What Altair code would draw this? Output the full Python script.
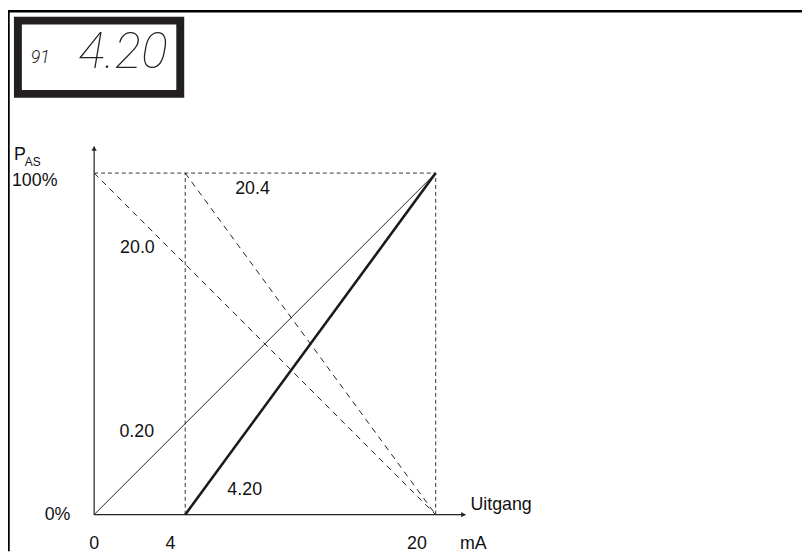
import altair as alt
import pandas as pd

# ---- data ----
seg_x1 = [0, 4, 0, 4, 4, 20, 0]
seg_y1 = [0, 0, 100, 100, 0, 0, 100]
seg_x2 = [20, 20, 20, 20, 4, 20, 20]
seg_y2 = [100, 100, 0, 0, 100, 100, 100]
seg_kind = ["thin", "thick", "dash", "dash", "dot", "dot", "dot"]

curve_labels = ["20.4", "20.0", "0.20", "4.20"]
curve_label_x = [8.3, 1.9, 1.87, 7.8]
curve_label_y = [95.4, 78.0, 24.3, 7.2]

tick_labels = ["0", "4", "20"]
tick_values = [0, 4, 20]

x_axis_end = 21.9
y_axis_end = 107.8

display_small = "91"
display_big = "4.20"

FONT = "Liberation Sans"
FS = 18

segs = pd.DataFrame({"x": seg_x1, "y": seg_y1, "x2": seg_x2, "y2": seg_y2, "kind": seg_kind})
labels = pd.DataFrame({"t": curve_labels, "x": curve_label_x, "y": curve_label_y})

xs = alt.Scale(domain=[0, 4, 20], range=[87, 179, 432], nice=False, zero=False)
ys = alt.Scale(domain=[0, 100], range=[509, 164], nice=False, zero=False)
X = lambda f: alt.X(f, type="quantitative", scale=xs, axis=None)
Y = lambda f: alt.Y(f, type="quantitative", scale=ys, axis=None)

base = alt.Chart(segs)

def seg_layer(kind, **kw):
    return base.transform_filter(alt.datum.kind == kind).mark_rule(**kw).encode(
        x=X("x"), y=Y("y"), x2="x2", y2="y2")

layers = [
    seg_layer("dot", stroke="#333", strokeWidth=1, strokeDash=[4, 3]),
    seg_layer("dash", stroke="#222", strokeWidth=1, strokeDash=[6, 5]),
    seg_layer("thin", stroke="#222", strokeWidth=1),
    seg_layer("thick", stroke="#1a1a1a", strokeWidth=2.6),
]

axes_df = pd.DataFrame({"x": [0, 0], "y": [0, 0], "x2": [x_axis_end, 0], "y2": [0, y_axis_end]})
layers.append(alt.Chart(axes_df).mark_rule(stroke="#222", strokeWidth=1.2).encode(
    x=X("x"), y=Y("y"), x2="x2", y2="y2"))
layers.append(alt.Chart(pd.DataFrame({"x": [x_axis_end], "y": [0]})).mark_point(
    shape="triangle-right", filled=True, color="#222", size=28, opacity=1, xOffset=-2).encode(
    x=X("x"), y=Y("y")))
layers.append(alt.Chart(pd.DataFrame({"x": [0], "y": [y_axis_end]})).mark_point(
    shape="triangle-up", filled=True, color="#222", size=28, opacity=1, yOffset=2).encode(
    x=X("x"), y=Y("y")))

# curve labels
layers.append(alt.Chart(labels).mark_text(font=FONT, fontSize=FS, color="#111").encode(
    x=X("x"), y=Y("y"), text="t:N"))

# x tick labels
tick_dx = {0: 0, 4: -15, 20: -19}
for t, v in zip(tick_labels, tick_values):
    layers.append(alt.Chart(pd.DataFrame({"t": [t], "x": [v]})).mark_text(
        font=FONT, fontSize=FS, color="#111", dx=tick_dx[v]).encode(
        x=X("x"), y=alt.value(539), text="t:N"))
layers.append(alt.Chart(pd.DataFrame({"t": ["mA"], "x": [x_axis_end]})).mark_text(
    font=FONT, fontSize=FS, color="#111", dx=8).encode(x=X("x"), y=alt.value(539), text="t:N"))
layers.append(alt.Chart(pd.DataFrame({"t": ["Uitgang"], "x": [x_axis_end], "y": [0]})).mark_text(
    font=FONT, fontSize=FS, color="#111", align="left", dx=5, dy=-10).encode(
    x=X("x"), y=Y("y"), text="t:N"))

# y labels
layers.append(alt.Chart(pd.DataFrame({"t": ["0%"], "y": [0]})).mark_text(
    font=FONT, fontSize=FS, color="#111").encode(x=alt.value(50), y=Y("y"), text="t:N"))
layers.append(alt.Chart(pd.DataFrame({"t": ["100%"], "y": [100]})).mark_text(
    font=FONT, fontSize=FS, color="#111", align="left", dy=8).encode(
    x=alt.value(4), y=Y("y"), text="t:N"))
layers.append(alt.Chart(pd.DataFrame({"t": ["P"]})).mark_text(
    font=FONT, fontSize=FS, color="#111", align="left").encode(
    x=alt.value(6), y=alt.value(146), text="t:N"))
layers.append(alt.Chart(pd.DataFrame({"t": ["AS"]})).mark_text(
    font=FONT, fontSize=12, color="#111", align="left").encode(
    x=alt.value(17), y=alt.value(153), text="t:N"))

# frame and display
layers.append(alt.Chart(pd.DataFrame({"a": [0]})).mark_rule(stroke="black", strokeWidth=2.5).encode(
    x=alt.value(0), x2=alt.value(802), y=alt.value(0.5)))
layers.append(alt.Chart(pd.DataFrame({"a": [0]})).mark_rule(stroke="black", strokeWidth=2.5).encode(
    x=alt.value(0.5), y=alt.value(0), y2=alt.value(546)))
layers.append(alt.Chart(pd.DataFrame({"a": [0]})).mark_rect(
    fill="white", stroke="#231f20", strokeWidth=8).encode(
    x=alt.value(10), x2=alt.value(174), y=alt.value(10), y2=alt.value(84)))
layers.append(alt.Chart(pd.DataFrame({"t": [display_small]})).mark_text(
    font="Roboto", fontSize=18, fontWeight=300, fontStyle="italic", color="#222",
    align="left", baseline="alphabetic").encode(x=alt.value(23), y=alt.value(53), text="t:N"))
layers.append(alt.Chart(pd.DataFrame({"t": [display_big]})).mark_text(
    font="Roboto", fontSize=50, fontWeight=100, fontStyle="italic", color="#222",
    align="left", baseline="alphabetic").encode(x=alt.value(71), y=alt.value(58), text="t:N"))

chart = alt.layer(*layers).properties(
    width=802, height=546, padding=0, autosize=alt.AutoSizeParams(type="none"),
    background="white"
).configure_view(stroke=None)

chart.save("out.html", embed_options={"renderer": "svg", "actions": False})
